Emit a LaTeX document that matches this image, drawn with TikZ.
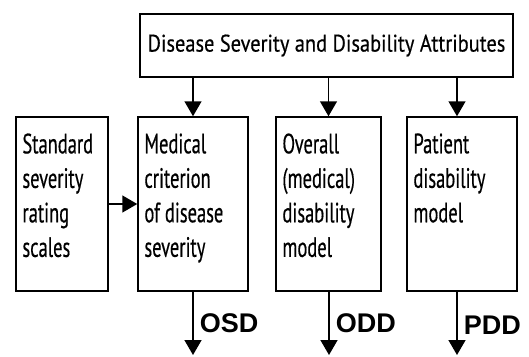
\documentclass[tikz,border=0pt]{standalone}
\usepackage{fontspec}
\setmainfont{PT Sans}[FakeStretch=0.66, FakeBold=0.4]
\newfontfamily\topfont{PT Sans}[FakeStretch=0.85, FakeBold=0.4]
\newfontfamily\outfont{Liberation Sans}
\usetikzlibrary{arrows.meta}

\begin{document}
\begin{tikzpicture}[x=1pt, y=-1pt]
        % ================= styles =================
        \tikzset{
            % top box
            attrbox/.style={draw=black, line width=1.5pt, fill=white, minimum width=373pt, minimum height=63pt, inner sep=0pt, font=\topfont\fontsize{24}{30}\selectfont},
            % model boxes, text sits top left
            modelbox/.style={draw=black, line width=1.5pt, fill=white, minimum height=174pt, inner sep=0pt},
            boxtext/.style={anchor=north west, align=left, inner sep=0pt, xshift=7pt, yshift=-17pt, font=\fontsize{28}{34.5}\selectfont},
            % arrows
            flow/.style={line width=1.5pt, -{Triangle[length=15pt, width=17pt]}},
            % output labels
            outlbl/.style={right, inner sep=0pt, xshift=6pt, font=\outfont\bfseries\fontsize{27}{30}\selectfont}
        }
        \useasboundingbox (0,0) rectangle (529,356);

        % ================= 1. top box =================
        \node[attrbox] (attr) at (326.5,45.5) {Disease Severity and Disability Attributes};

        % ================= 2. model boxes =================
        \node[modelbox, minimum width=92pt, label={[boxtext]north west:{Standard\\severity\\rating\\scales}}] (std) at (62,204) {};
        \node[modelbox, minimum width=110pt, label={[boxtext]north west:{Medical\\criterion\\of disease\\severity}}] (med) at (193,204) {};
        \node[modelbox, minimum width=105pt, label={[boxtext]north west:{Overall\\(medical)\\disability\\model}}] (ovr) at (328.5,204) {};
        \node[modelbox, minimum width=110pt, label={[boxtext]north west:{Patient\\disability\\model}}] (pat) at (462,204) {};

        % ================= 3. ends of output arrows =================
        \coordinate (osd) at (193,355);
        \coordinate (odd) at (329,355);
        \coordinate (pdd) at (457,355);

        % ================= 4. arrows =================
        \draw[flow] (attr.south -| med.north) -- (med);
        \draw[flow] (attr.south -| ovr.north) -- (ovr);
        \draw[flow] (attr.south -| pdd) -- (pat.north -| pdd);

        \draw[flow] (std) -- (med);

        \draw[flow] (med.south -| osd) -- node[outlbl] {OSD} (osd);
        \draw[flow] (ovr.south -| odd) -- node[outlbl] {ODD} (odd);
        \draw[flow] (pat.south -| pdd) -- node[outlbl, yshift=-2pt] {PDD} (pdd);

    \end{tikzpicture}
\end{document}
